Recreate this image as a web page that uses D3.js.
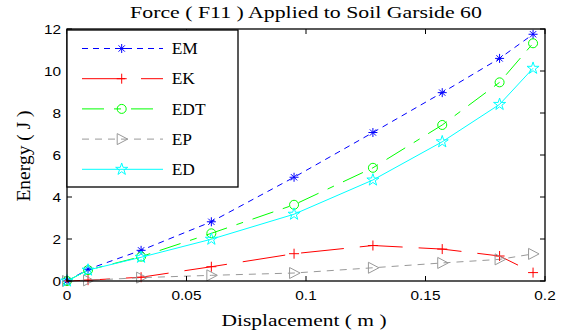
<!DOCTYPE html>
<html><head><meta charset="utf-8">
<script src="https://cdn.jsdelivr.net/npm/d3@7"></script>
<style>body{margin:0;background:#fff}svg{display:block}</style>
</head><body>
<svg id="c" width="563" height="331"></svg>
<script>
const displacement = [0, 0.0088, 0.031, 0.0604, 0.095, 0.128, 0.157, 0.181, 0.195];
const EM  = [0, 0.56, 1.46, 2.82, 4.94, 7.07, 8.97, 10.60, 11.75];
const EK  = [0, 0.04, 0.18, 0.68, 1.30, 1.69, 1.52, 1.19, 0.40];
const EDT = [0, 0.52, 1.16, 2.27, 3.63, 5.39, 7.43, 9.46, 11.32];
const EP  = [0, 0.03, 0.16, 0.27, 0.38, 0.63, 0.86, 1.03, 1.29];
const ED  = [0, 0.52, 1.13, 1.99, 3.18, 4.81, 6.63, 8.41, 10.13];
const seriesNames = ["EM", "EK", "EDT", "EP", "ED"];
const xTicks = [0, 0.05, 0.1, 0.15, 0.2];
const yTicks = [0, 2, 4, 6, 8, 10, 12];
const titleText = "Force ( F11 ) Applied to Soil Garside 60";
const xLabel = "Displacement ( m )";
const yLabel = "Energy ( J )";

const styles = {
  EM:  {color: "#0000ff", dash: "6,5", marker: "star"},
  EK:  {color: "#ff0000", dash: "43,16", marker: "plus"},
  EDT: {color: "#00ff00", dash: "22,10,7,10", marker: "circle"},
  EP:  {color: "#999999", dash: "7,6", marker: "tri"},
  ED:  {color: "#00ffff", dash: null, marker: "penta"}
};
const data = {EM, EK, EDT, EP, ED};

const svg = d3.select("#c");
const L = 67, R = 545, T = 29, B = 281;
const x = d3.scaleLinear().domain([0, 0.2]).range([L, R]);
const y = d3.scaleLinear().domain([0, 12]).range([B, T]);

function stext(g, txt, px, py, size, family, anchor, sx) {
  return g.append("text").text(txt)
    .attr("transform", `translate(${px},${py}) scale(${sx},1)`)
    .attr("text-anchor", anchor)
    .attr("font-family", family).attr("font-size", size).attr("fill", "#000");
}

// series lines
const line = d3.line().x((d, i) => x(displacement[i])).y(d => y(d));
const plot = svg.append("g");
seriesNames.forEach(n => {
  const s = styles[n];
  plot.append("path").datum(data[n]).attr("d", line)
    .attr("fill", "none").attr("stroke", s.color).attr("stroke-width", 1)
    .attr("stroke-dasharray", s.dash);
});

function drawMarker(g, type, cx, cy, color) {
  const m = g.append("g").attr("transform", `translate(${cx},${cy})`)
    .attr("fill", "none").attr("stroke", color).attr("stroke-width", 1);
  if (type === "star") {
    const r = 4.5;
    m.append("path").attr("d", `M${-r},0H${r}M0,${-r}V${r}M${-r*0.7},${-r*0.7}L${r*0.7},${r*0.7}M${-r*0.7},${r*0.7}L${r*0.7},${-r*0.7}`);
  } else if (type === "plus") {
    const r = 5;
    m.append("path").attr("d", `M${-r},0H${r}M0,${-r}V${r}`);
  } else if (type === "circle") {
    m.append("circle").attr("r", 4.5);
  } else if (type === "tri") {
    m.append("path").attr("d", "M-4.5,-5.5L6,0L-4.5,5.5Z");
  } else if (type === "penta") {
    m.append("path").attr("d", d3.symbol(d3.symbolStar, 45)());
  }
}
seriesNames.forEach(n => {
  const s = styles[n];
  data[n].forEach((v, i) => drawMarker(plot, s.marker, x(displacement[i]), y(v), s.color));
});

// axes box and ticks
const ax = svg.append("g");
ax.append("rect").attr("x", L).attr("y", T).attr("width", R - L).attr("height", B - T)
  .attr("fill", "none").attr("stroke", "#000").attr("stroke-width", 1.3);
const tl = 5;
xTicks.forEach(t => {
  ax.append("line").attr("x1", x(t)).attr("x2", x(t)).attr("y1", B).attr("y2", B - tl).attr("stroke", "#000");
  ax.append("line").attr("x1", x(t)).attr("x2", x(t)).attr("y1", T).attr("y2", T + tl).attr("stroke", "#000");
  stext(ax, d3.format("")(t), x(t), 300, 12.6, "Liberation Sans, Arial, sans-serif", "middle", 1.22);
});
yTicks.forEach(t => {
  ax.append("line").attr("x1", L).attr("x2", L + tl).attr("y1", y(t)).attr("y2", y(t)).attr("stroke", "#000");
  ax.append("line").attr("x1", R).attr("x2", R - tl).attr("y1", y(t)).attr("y2", y(t)).attr("stroke", "#000");
  stext(ax, String(t), 61, y(t) + 4.5, 12.6, "Liberation Sans, Arial, sans-serif", "end", 1.22);
});

// titles
stext(svg, titleText, (L + R) / 2, 18.3, 17.6, "Liberation Serif, Times New Roman, serif", "middle", 1.24);
stext(svg, xLabel, 304, 326, 17.6, "Liberation Serif, Times New Roman, serif", "middle", 1.22);
svg.append("text").text(yLabel)
  .attr("transform", "translate(30,156) rotate(-90)")
  .attr("text-anchor", "middle")
  .attr("font-family", "Liberation Serif, Times New Roman, serif").attr("font-size", 19.5);

// legend
const lg = svg.append("g");
lg.append("rect").attr("x", 67).attr("y", 30).attr("width", 171).attr("height", 157)
  .attr("fill", "#fff").attr("stroke", "#000").attr("stroke-width", 1.3);
seriesNames.forEach((n, i) => {
  const s = styles[n];
  const ly = 48.5 + i * 30.2;
  lg.append("line").attr("x1", 82).attr("x2", 163).attr("y1", ly).attr("y2", ly)
    .attr("stroke", s.color).attr("stroke-dasharray", s.dash);
  drawMarker(lg, s.marker, 121.7, ly, s.color);
  stext(lg, n, 171.7, ly + 5.7, 16.6, "Liberation Serif, Times New Roman, serif", "start", 1.05);
});
</script>
</body></html>
